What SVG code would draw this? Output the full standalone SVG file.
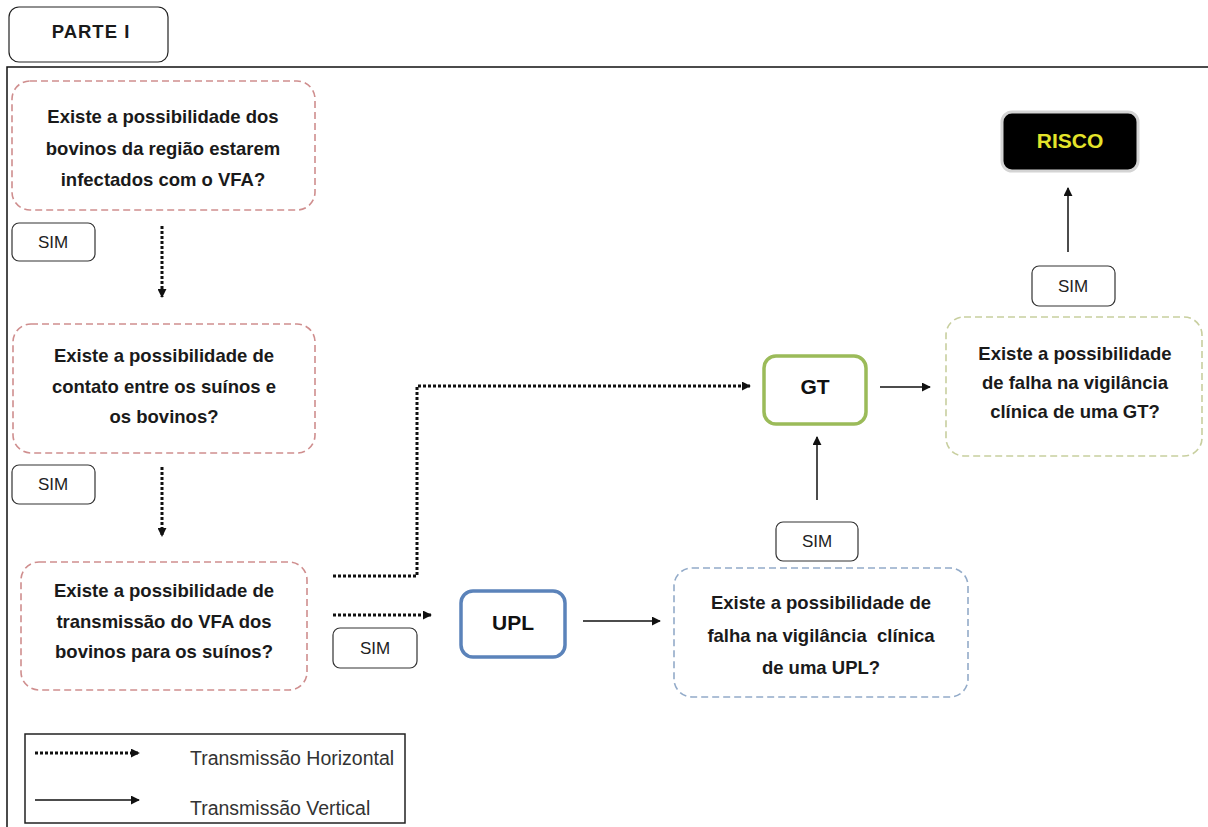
<svg xmlns="http://www.w3.org/2000/svg" width="1208" height="827" viewBox="0 0 1208 827">
<defs>
<style>
.q{font-family:"Liberation Sans",Arial,sans-serif;font-weight:bold;font-size:18.5px;fill:#1a1a1a;text-anchor:middle}
.sim{font-family:"Liberation Sans",Arial,sans-serif;font-size:17px;fill:#222;text-anchor:middle}
.simbox{fill:#fff;stroke:#333;stroke-width:1.2}
.dash{fill:#fff;stroke-width:1.6;stroke-dasharray:7 4}
.dot{fill:none;stroke:#111;stroke-width:3;stroke-dasharray:3 2}
.solid{fill:none;stroke:#111;stroke-width:1.5}
.big{font-family:"Liberation Sans",Arial,sans-serif;font-weight:bold;font-size:21px;fill:#111;text-anchor:middle}
.leg{font-family:"Liberation Sans",Arial,sans-serif;font-size:19.5px;fill:#333}
</style>
<marker id="ah" viewBox="0 0 10 10" refX="9" refY="5" markerWidth="9" markerHeight="9" markerUnits="userSpaceOnUse" orient="auto"><path d="M0,0 L10,5 L0,10 z" fill="#111"/></marker>
</defs>
<rect width="1208" height="827" fill="#fff"/>
<path d="M7,827 V67 H1208" fill="none" stroke="#111" stroke-width="1.5"/>

<g id="parte">
<rect x="9" y="7" width="159" height="55" rx="10" fill="#fff" stroke="#222" stroke-width="1.2"/>
<text x="91" y="38" class="q" style="letter-spacing:1px">PARTE I</text>
</g>

<g id="q1">
<rect x="12" y="81" width="303" height="129" rx="18" class="dash" stroke="#cf8e8e"/>
<text class="q" x="163" y="123">Existe a possibilidade dos</text>
<text class="q" x="163" y="155">bovinos da região estarem</text>
<text class="q" x="163" y="186">infectados com o VFA?</text>
</g>
<g id="sim1"><rect x="12" y="223" width="83" height="38" rx="7" class="simbox"/><text class="sim" x="53" y="248">SIM</text></g>

<g id="q2">
<rect x="13" y="324" width="302" height="129" rx="18" class="dash" stroke="#cf8e8e"/>
<text class="q" x="164" y="362">Existe a possibilidade de</text>
<text class="q" x="164" y="393">contato entre os suínos e</text>
<text class="q" x="164" y="423">os bovinos?</text>
</g>
<g id="sim2"><rect x="12" y="465" width="83" height="39" rx="7" class="simbox"/><text class="sim" x="53" y="490">SIM</text></g>

<g id="q3">
<rect x="21" y="562" width="286" height="128" rx="18" class="dash" stroke="#cf8e8e"/>
<text class="q" x="164" y="597">Existe a possibilidade de</text>
<text class="q" x="164" y="628">transmissão do VFA dos</text>
<text class="q" x="164" y="658">bovinos para os suínos?</text>
</g>
<g id="sim3"><rect x="333" y="628" width="84" height="40" rx="7" class="simbox"/><text class="sim" x="375" y="654">SIM</text></g>

<g id="upl">
<rect x="461" y="591" width="104" height="66" rx="12" fill="#fff" stroke="#5b83ba" stroke-width="3.5"/>
<text class="big" x="513" y="630">UPL</text>
</g>

<g id="q4">
<rect x="674" y="568" width="294" height="129" rx="18" class="dash" stroke="#93abc9"/>
<text class="q" x="821" y="609">Existe a possibilidade de</text>
<text class="q" x="821" y="642">falha na vigilância&#160; clínica</text>
<text class="q" x="821" y="674">de uma UPL?</text>
</g>
<g id="sim4"><rect x="776" y="522" width="82" height="39" rx="7" class="simbox"/><text class="sim" x="817" y="547">SIM</text></g>

<g id="gt">
<rect x="764" y="356" width="102" height="68" rx="12" fill="#fff" stroke="#9bbb59" stroke-width="3.5"/>
<text class="big" x="815" y="394">GT</text>
</g>

<g id="q5">
<rect x="946" y="317" width="256" height="139" rx="18" class="dash" stroke="#c8cf9f"/>
<text class="q" x="1075" y="360">Existe a possibilidade</text>
<text class="q" x="1075" y="389">de falha na vigilância</text>
<text class="q" x="1075" y="418">clínica de uma GT?</text>
</g>
<g id="sim5"><rect x="1032" y="266" width="83" height="40" rx="7" class="simbox"/><text class="sim" x="1073" y="292">SIM</text></g>

<g id="risco">
<rect x="1002" y="112" width="136" height="59" rx="10" fill="#000" stroke="#d4d4d4" stroke-width="3"/>
<text x="1070" y="148" style="font-family:'Liberation Sans',Arial,sans-serif;font-weight:bold;font-size:21px;fill:#e4e42a;text-anchor:middle">RISCO</text>
</g>

<g id="connectors">
<line x1="162" y1="226" x2="162" y2="297" class="dot" marker-end="url(#ah)"/>
<line x1="162" y1="467" x2="162" y2="536" class="dot" marker-end="url(#ah)"/>
<path d="M333,576 H417 V386 H750" class="dot" marker-end="url(#ah)"/>
<line x1="333" y1="615" x2="431" y2="615" class="dot" marker-end="url(#ah)"/>
<line x1="583" y1="621" x2="660" y2="621" class="solid" marker-end="url(#ah)"/>
<line x1="817" y1="500" x2="817" y2="437" class="solid" marker-end="url(#ah)"/>
<line x1="880" y1="387" x2="930" y2="387" class="solid" marker-end="url(#ah)"/>
<line x1="1068" y1="252" x2="1068" y2="188" class="solid" marker-end="url(#ah)"/>
</g>

<g id="legend">
<rect x="25" y="734" width="380" height="89" fill="#fff" stroke="#222" stroke-width="1.5"/>
<line x1="35" y1="753" x2="139" y2="753" class="dot" marker-end="url(#ah)"/>
<text class="leg" x="190" y="765">Transmissão Horizontal</text>
<line x1="35" y1="800" x2="139" y2="800" class="solid" marker-end="url(#ah)"/>
<text class="leg" x="190" y="815">Transmissão Vertical</text>
</g>
</svg>
